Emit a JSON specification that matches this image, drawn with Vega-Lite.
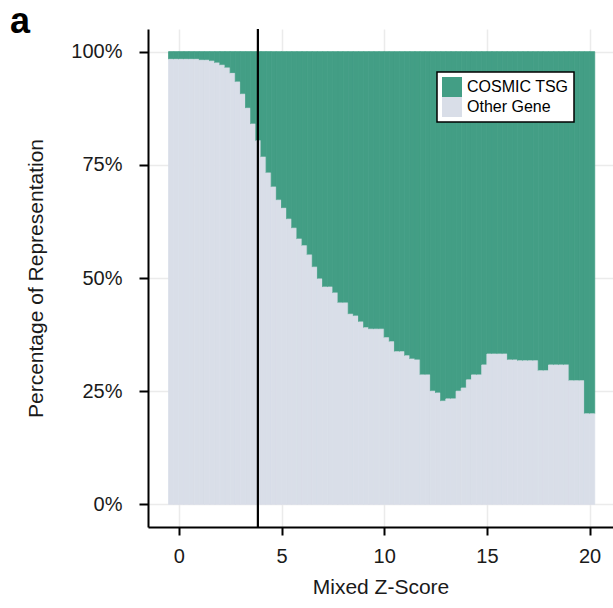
{
  "$schema": "https://vega.github.io/schema/vega-lite/v6.json",
  "width": 465,
  "height": 498,
  "autosize": {"type": "none"},
  "padding": {"left": 148, "top": 29, "right": 0, "bottom": 81},
  "background": "white",
  "title": {"text": "a", "anchor": "start", "frame": "group", "fontSize": 36, "fontWeight": "bold", "font": "Liberation Sans", "color": "black", "dx": -138, "dy": 42, "baseline": "alphabetic", "offset": 1},
  "layer": [
    {
      "data": {"values": [
        {"lo": -0.5, "hi": -0.25, "COSMIC TSG": 1.7, "Other Gene": 98.3},
        {"lo": -0.25, "hi": 0, "COSMIC TSG": 1.7, "Other Gene": 98.3},
        {"lo": 0, "hi": 0.25, "COSMIC TSG": 1.7, "Other Gene": 98.3},
        {"lo": 0.25, "hi": 0.5, "COSMIC TSG": 1.7, "Other Gene": 98.3},
        {"lo": 0.5, "hi": 0.75, "COSMIC TSG": 1.7, "Other Gene": 98.3},
        {"lo": 0.75, "hi": 1.0, "COSMIC TSG": 1.7, "Other Gene": 98.3},
        {"lo": 1.0, "hi": 1.25, "COSMIC TSG": 1.9, "Other Gene": 98.1},
        {"lo": 1.25, "hi": 1.5, "COSMIC TSG": 1.9, "Other Gene": 98.1},
        {"lo": 1.5, "hi": 1.75, "COSMIC TSG": 2.1, "Other Gene": 97.9},
        {"lo": 1.75, "hi": 2.0, "COSMIC TSG": 2.5, "Other Gene": 97.5},
        {"lo": 2.0, "hi": 2.25, "COSMIC TSG": 3.0, "Other Gene": 97.0},
        {"lo": 2.25, "hi": 2.5, "COSMIC TSG": 3.6, "Other Gene": 96.4},
        {"lo": 2.5, "hi": 2.75, "COSMIC TSG": 4.8, "Other Gene": 95.2},
        {"lo": 2.75, "hi": 3.0, "COSMIC TSG": 6.7, "Other Gene": 93.3},
        {"lo": 3.0, "hi": 3.25, "COSMIC TSG": 9.4, "Other Gene": 90.6},
        {"lo": 3.25, "hi": 3.5, "COSMIC TSG": 12.5, "Other Gene": 87.5},
        {"lo": 3.5, "hi": 3.75, "COSMIC TSG": 16.0, "Other Gene": 84.0},
        {"lo": 3.75, "hi": 4.0, "COSMIC TSG": 19.7, "Other Gene": 80.3},
        {"lo": 4.0, "hi": 4.25, "COSMIC TSG": 23.3, "Other Gene": 76.7},
        {"lo": 4.25, "hi": 4.5, "COSMIC TSG": 26.8, "Other Gene": 73.2},
        {"lo": 4.5, "hi": 4.75, "COSMIC TSG": 29.9, "Other Gene": 70.1},
        {"lo": 4.75, "hi": 5.0, "COSMIC TSG": 32.8, "Other Gene": 67.2},
        {"lo": 5.0, "hi": 5.25, "COSMIC TSG": 34.6, "Other Gene": 65.4},
        {"lo": 5.25, "hi": 5.5, "COSMIC TSG": 37.0, "Other Gene": 63.0},
        {"lo": 5.5, "hi": 5.75, "COSMIC TSG": 39.0, "Other Gene": 61.0},
        {"lo": 5.75, "hi": 6.0, "COSMIC TSG": 41.4, "Other Gene": 58.6},
        {"lo": 6.0, "hi": 6.25, "COSMIC TSG": 42.9, "Other Gene": 57.1},
        {"lo": 6.25, "hi": 6.5, "COSMIC TSG": 44.9, "Other Gene": 55.1},
        {"lo": 6.5, "hi": 6.75, "COSMIC TSG": 47.6, "Other Gene": 52.4},
        {"lo": 6.75, "hi": 7.0, "COSMIC TSG": 50.2, "Other Gene": 49.8},
        {"lo": 7.0, "hi": 7.25, "COSMIC TSG": 52.0, "Other Gene": 48.0},
        {"lo": 7.25, "hi": 7.5, "COSMIC TSG": 52.0, "Other Gene": 48.0},
        {"lo": 7.5, "hi": 7.75, "COSMIC TSG": 53.3, "Other Gene": 46.7},
        {"lo": 7.75, "hi": 8.0, "COSMIC TSG": 55.5, "Other Gene": 44.5},
        {"lo": 8.0, "hi": 8.25, "COSMIC TSG": 55.5, "Other Gene": 44.5},
        {"lo": 8.25, "hi": 8.5, "COSMIC TSG": 58.0, "Other Gene": 42.0},
        {"lo": 8.5, "hi": 8.75, "COSMIC TSG": 58.4, "Other Gene": 41.6},
        {"lo": 8.75, "hi": 9.0, "COSMIC TSG": 59.7, "Other Gene": 40.3},
        {"lo": 9.0, "hi": 9.25, "COSMIC TSG": 61.0, "Other Gene": 39.0},
        {"lo": 9.25, "hi": 9.5, "COSMIC TSG": 61.3, "Other Gene": 38.7},
        {"lo": 9.5, "hi": 9.75, "COSMIC TSG": 61.3, "Other Gene": 38.7},
        {"lo": 9.75, "hi": 10.0, "COSMIC TSG": 61.3, "Other Gene": 38.7},
        {"lo": 10.0, "hi": 10.25, "COSMIC TSG": 63.2, "Other Gene": 36.8},
        {"lo": 10.25, "hi": 10.5, "COSMIC TSG": 64.1, "Other Gene": 35.9},
        {"lo": 10.5, "hi": 10.75, "COSMIC TSG": 66.3, "Other Gene": 33.7},
        {"lo": 10.75, "hi": 11.0, "COSMIC TSG": 66.3, "Other Gene": 33.7},
        {"lo": 11.0, "hi": 11.25, "COSMIC TSG": 67.2, "Other Gene": 32.8},
        {"lo": 11.25, "hi": 11.5, "COSMIC TSG": 67.9, "Other Gene": 32.1},
        {"lo": 11.5, "hi": 11.75, "COSMIC TSG": 68.1, "Other Gene": 31.9},
        {"lo": 11.75, "hi": 12.0, "COSMIC TSG": 71.4, "Other Gene": 28.6},
        {"lo": 12.0, "hi": 12.25, "COSMIC TSG": 71.4, "Other Gene": 28.6},
        {"lo": 12.25, "hi": 12.5, "COSMIC TSG": 75.0, "Other Gene": 25.0},
        {"lo": 12.5, "hi": 12.75, "COSMIC TSG": 75.4, "Other Gene": 24.6},
        {"lo": 12.75, "hi": 13.0, "COSMIC TSG": 77.2, "Other Gene": 22.8},
        {"lo": 13.0, "hi": 13.25, "COSMIC TSG": 76.7, "Other Gene": 23.3},
        {"lo": 13.25, "hi": 13.5, "COSMIC TSG": 76.7, "Other Gene": 23.3},
        {"lo": 13.5, "hi": 13.75, "COSMIC TSG": 75.0, "Other Gene": 25.0},
        {"lo": 13.75, "hi": 14.0, "COSMIC TSG": 74.3, "Other Gene": 25.7},
        {"lo": 14.0, "hi": 14.25, "COSMIC TSG": 72.5, "Other Gene": 27.5},
        {"lo": 14.25, "hi": 14.5, "COSMIC TSG": 71.4, "Other Gene": 28.6},
        {"lo": 14.5, "hi": 14.75, "COSMIC TSG": 71.4, "Other Gene": 28.6},
        {"lo": 14.75, "hi": 15.0, "COSMIC TSG": 69.2, "Other Gene": 30.8},
        {"lo": 15.0, "hi": 15.25, "COSMIC TSG": 66.8, "Other Gene": 33.2},
        {"lo": 15.25, "hi": 15.5, "COSMIC TSG": 66.8, "Other Gene": 33.2},
        {"lo": 15.5, "hi": 15.75, "COSMIC TSG": 66.8, "Other Gene": 33.2},
        {"lo": 15.75, "hi": 16.0, "COSMIC TSG": 66.8, "Other Gene": 33.2},
        {"lo": 16.0, "hi": 16.25, "COSMIC TSG": 68.1, "Other Gene": 31.9},
        {"lo": 16.25, "hi": 16.5, "COSMIC TSG": 68.1, "Other Gene": 31.9},
        {"lo": 16.5, "hi": 16.75, "COSMIC TSG": 68.3, "Other Gene": 31.7},
        {"lo": 16.75, "hi": 17.0, "COSMIC TSG": 68.3, "Other Gene": 31.7},
        {"lo": 17.0, "hi": 17.25, "COSMIC TSG": 68.3, "Other Gene": 31.7},
        {"lo": 17.25, "hi": 17.5, "COSMIC TSG": 68.3, "Other Gene": 31.7},
        {"lo": 17.5, "hi": 17.75, "COSMIC TSG": 70.5, "Other Gene": 29.5},
        {"lo": 17.75, "hi": 18.0, "COSMIC TSG": 70.5, "Other Gene": 29.5},
        {"lo": 18.0, "hi": 18.25, "COSMIC TSG": 69.2, "Other Gene": 30.8},
        {"lo": 18.25, "hi": 18.5, "COSMIC TSG": 69.2, "Other Gene": 30.8},
        {"lo": 18.5, "hi": 18.75, "COSMIC TSG": 69.2, "Other Gene": 30.8},
        {"lo": 18.75, "hi": 19.0, "COSMIC TSG": 69.2, "Other Gene": 30.8},
        {"lo": 19.0, "hi": 19.25, "COSMIC TSG": 72.7, "Other Gene": 27.3},
        {"lo": 19.25, "hi": 19.5, "COSMIC TSG": 72.7, "Other Gene": 27.3},
        {"lo": 19.5, "hi": 19.75, "COSMIC TSG": 72.7, "Other Gene": 27.3},
        {"lo": 19.75, "hi": 20.0, "COSMIC TSG": 80.0, "Other Gene": 20.0},
        {"lo": 20.0, "hi": 20.25, "COSMIC TSG": 80.0, "Other Gene": 20.0}
      ]},
      "transform": [
        {"fold": ["COSMIC TSG", "Other Gene"], "as": ["group", "pct"]},
        {"stack": "pct", "groupby": ["lo"], "sort": [{"field": "group", "order": "descending"}], "as": ["y0", "y1"]}
      ],
      "mark": {"type": "bar", "strokeWidth": 0.8},
      "encoding": {
        "x": {"field": "lo", "type": "quantitative",
          "scale": {"domain": [-1.5, 21.14], "nice": false, "zero": false},
          "axis": {"values": [0, 5, 10, 15, 20], "title": "Mixed Z-Score", "labelPadding": 11, "titlePadding": 10, "tickSize": 8}},
        "x2": {"field": "hi"},
        "y": {"field": "y0", "type": "quantitative",
          "scale": {"domain": [-5, 105], "nice": false, "zero": false},
          "axis": {"values": [0, 25, 50, 75, 100], "labelExpr": "datum.value + '%'", "title": "Percentage of Representation", "labelPadding": 17, "titlePadding": 24, "tickSize": 9, "labelDy": 2}},
        "y2": {"field": "y1"},
        "color": {"field": "group", "type": "nominal",
          "scale": {"domain": ["COSMIC TSG", "Other Gene"], "range": ["#439e85", "#d9dee8"]},
          "legend": {"title": null, "orient": "none", "legendX": 289, "legendY": 43,
            "symbolType": "square", "symbolSize": 400, "symbolStrokeWidth": 0, "symbolOpacity": 1,
            "rowPadding": 0, "labelOffset": 5, "labelFontSize": 16, "labelFont": "Liberation Sans", "labelColor": "black",
            "padding": 5, "strokeColor": "black", "fillColor": "white",
            "encode": {"legend": {"update": {"strokeWidth": {"value": 1.5}}}}}},
        "stroke": {"field": "group", "type": "nominal",
          "scale": {"domain": ["COSMIC TSG", "Other Gene"], "range": ["#439e85", "#d9dee8"]},
          "legend": null}
      }
    },
    {
      "data": {"values": [{"z": 3.85}]},
      "mark": {"type": "rule", "color": "black", "strokeWidth": 2.2},
      "encoding": {"x": {"field": "z", "type": "quantitative"}}
    }
  ],
  "config": {
    "view": {"stroke": null},
    "font": "Liberation Sans",
    "axis": {
      "grid": true, "gridColor": "#ebebeb", "gridWidth": 1.5,
      "domainColor": "black", "domainWidth": 2, "tickColor": "black", "tickWidth": 2,
      "labelFont": "Liberation Sans", "labelFontSize": 20, "labelColor": "#1a1a1a",
      "titleFont": "Liberation Sans", "titleFontSize": 21, "titleFontWeight": "normal", "titleColor": "#1a1a1a"
    }
  }
}
